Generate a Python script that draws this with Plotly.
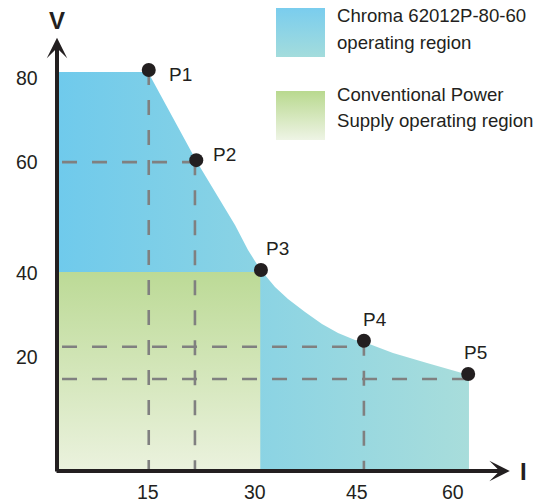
import plotly.graph_objects as go

# ---------------- data ----------------
# operating envelope of the Chroma supply (I in A, V in V, schematic)
blue_edge_i = [0.0, 13.79, 21.21, 24.70, 26.97, 28.94, 30.76, 33.03, 35.00,
               37.58, 40.15, 42.58, 45.15, 46.52, 50.91, 56.06, 62.42]
blue_edge_v = [80.61, 80.61, 62.42, 54.75, 49.70, 44.65, 40.81, 37.17, 34.75,
               32.12, 29.70, 27.88, 26.46, 26.06, 23.84, 21.82, 19.39]

# conventional supply rectangle
conv_i = [0.0, 30.8]
conv_v = [40.2, 40.2]

# marked points
point_names = ["P1", "P2", "P3", "P4", "P5"]
point_i = [13.9, 21.1, 30.9, 46.5, 62.3]
point_v = [81.0, 62.8, 40.6, 26.3, 19.6]

# dashed guide lines
guide_v_i = [13.9, 20.9, 46.5]        # vertical guides (x position)
guide_v_top = [81.0, 62.8, 26.3]      # from this V down to the axis
guide_h_v = [62.4, 25.1, 18.6]        # horizontal guides (V level)
guide_h_end = [21.1, 46.5, 62.3]      # from the axis to this I

# axis tick labels (as placed in the schematic)
x_tick_pos = [13.79, 30.0, 45.45, 60.0]
x_tick_text = ["15", "30", "45", "60"]
y_tick_pos = [79.39, 62.42, 40.0, 23.03]
y_tick_text = ["80", "60", "40", "20"]

legend_lines = [["Chroma 62012P-80-60", "operating region"],
                ["Conventional Power", "Supply operating region"]]

# ---------------- layout constants ----------------
W, H = 547, 503
X0_PX, X_SCALE = 57, 6.6      # pixel of I=0, px per unit
Y0_PX, Y_SCALE = 471, 4.95    # pixel of V=0, px per unit
X_ARROW_END = 68.6
Y_ARROW_END = 87.5

TXT = "#231F20"
FONT = "Liberation Sans, Arial, Helvetica, sans-serif"
BLUE_L, BLUE_R = "#6FCAEC", "#A8DDDB"
GREEN_TOP, GREEN_BOT = "#BCDA96", "#EBF2DE"

fig = go.Figure()

# blue region
fig.add_trace(go.Scatter(
    x=blue_edge_i, y=blue_edge_v, mode="lines", fill="tozeroy",
    line=dict(width=0),
    fillgradient=dict(type="horizontal", colorscale=[[0, BLUE_L], [1, BLUE_R]]),
    hoverinfo="skip", showlegend=False))

# green region
fig.add_trace(go.Scatter(
    x=conv_i, y=conv_v, mode="lines", fill="tozeroy",
    line=dict(width=0),
    fillgradient=dict(type="vertical", colorscale=[[0, GREEN_BOT], [1, GREEN_TOP]]),
    hoverinfo="skip", showlegend=False))

# dashed guides
dash_style = dict(color="#808080", width=2.6, dash="15px,15px")
for gx, gt in zip(guide_v_i, guide_v_top):
    fig.add_trace(go.Scatter(x=[gx, gx], y=[gt, 0], mode="lines", line=dash_style,
                             hoverinfo="skip", showlegend=False))
for gy, ge in zip(guide_h_v, guide_h_end):
    fig.add_trace(go.Scatter(x=[0.76, ge], y=[gy, gy], mode="lines", line=dash_style,
                             hoverinfo="skip", showlegend=False))

# points
fig.add_trace(go.Scatter(x=point_i, y=point_v, mode="markers",
                         marker=dict(size=14, color=TXT),
                         hoverinfo="skip", showlegend=False))

annotations = []
label_shift = [(18, -4), (15, 6), (3, 22), (-3, 21), (-6, 21)]
for name, pi, pv, (dx, dy) in zip(point_names, point_i, point_v, label_shift):
    annotations.append(dict(x=pi, y=pv, xref="x", yref="y", text=name, showarrow=False,
                            xanchor="left", yanchor="middle", xshift=dx, yshift=dy,
                            font=dict(family=FONT, size=19, color=TXT)))

for tv, tt in zip(x_tick_pos, x_tick_text):
    annotations.append(dict(x=tv, y=0, xref="x", yref="y", text=tt, showarrow=False,
                            xanchor="center", yanchor="middle", yshift=-21,
                            font=dict(family=FONT, size=19.5, color=TXT)))
for tv, tt in zip(y_tick_pos, y_tick_text):
    annotations.append(dict(x=0, y=tv, xref="x", yref="y", text=tt, showarrow=False,
                            xanchor="right", yanchor="middle", xshift=-17,
                            font=dict(family=FONT, size=19.5, color=TXT)))

# axis arrows
annotations.append(dict(x=0, y=Y_ARROW_END, ax=0, ay=-0.4, xref="x", yref="y",
                        axref="x", ayref="y", text="", showarrow=True, arrowhead=3,
                        arrowwidth=4, arrowsize=0.85, arrowcolor=TXT, standoff=0))
annotations.append(dict(x=X_ARROW_END, y=0, ax=-0.3, ay=0, xref="x", yref="y",
                        axref="x", ayref="y", text="", showarrow=True, arrowhead=3,
                        arrowwidth=4, arrowsize=0.85, arrowcolor=TXT, standoff=0))
annotations.append(dict(x=0, y=Y_ARROW_END, xref="x", yref="y", text="<b>V</b>",
                        showarrow=False, xanchor="center", yanchor="middle", yshift=17,
                        font=dict(family=FONT, size=24, color=TXT)))
annotations.append(dict(x=X_ARROW_END, y=0, xref="x", yref="y", text="<b>I</b>",
                        showarrow=False, xanchor="center", yanchor="middle", xshift=14,
                        font=dict(family=FONT, size=24, color=TXT)))

# legend (pixel axes x2/y2)
swatches = [((276, 325, 8, 57), "#7ACDEE", "#A3DCDC"),
            ((276, 325, 91, 140), "#B9D98F", "#EEF4E5")]
for (x0, x1, y0, y1), ctop, cbot in swatches:
    fig.add_trace(go.Scatter(
        x=[x0, x1, x1, x0, x0], y=[y0, y0, y1, y1, y0], xaxis="x2", yaxis="y2",
        mode="lines", fill="toself", line=dict(width=0),
        fillgradient=dict(type="vertical", start=y0, stop=y1,
                          colorscale=[[0, ctop], [1, cbot]]),
        hoverinfo="skip", showlegend=False))
legend_y = [[15, 42], [94, 120]]
for lines, ys in zip(legend_lines, legend_y):
    for txt, yy in zip(lines, ys):
        annotations.append(dict(x=335, y=yy, xref="x2", yref="y2", text=txt,
                                showarrow=False, xanchor="left", yanchor="middle",
                                font=dict(family=FONT, size=18.6, color=TXT)))

fig.update_layout(
    width=W, height=H, autosize=False,
    margin=dict(l=0, r=0, t=0, b=0, pad=0),
    paper_bgcolor="white", plot_bgcolor="rgba(0,0,0,0)",
    xaxis=dict(range=[-X0_PX / X_SCALE, (W - X0_PX) / X_SCALE], visible=False,
               fixedrange=True),
    yaxis=dict(range=[-(H - Y0_PX) / Y_SCALE, Y0_PX / Y_SCALE], visible=False,
               fixedrange=True),
    xaxis2=dict(range=[0, W], visible=False, overlaying="x", fixedrange=True),
    yaxis2=dict(range=[H, 0], visible=False, overlaying="y", fixedrange=True),
    annotations=annotations,
    showlegend=False,
)

fig.write_html("out.html", config={"displayModeBar": False},
               post_script="document.body.style.margin='0';")
